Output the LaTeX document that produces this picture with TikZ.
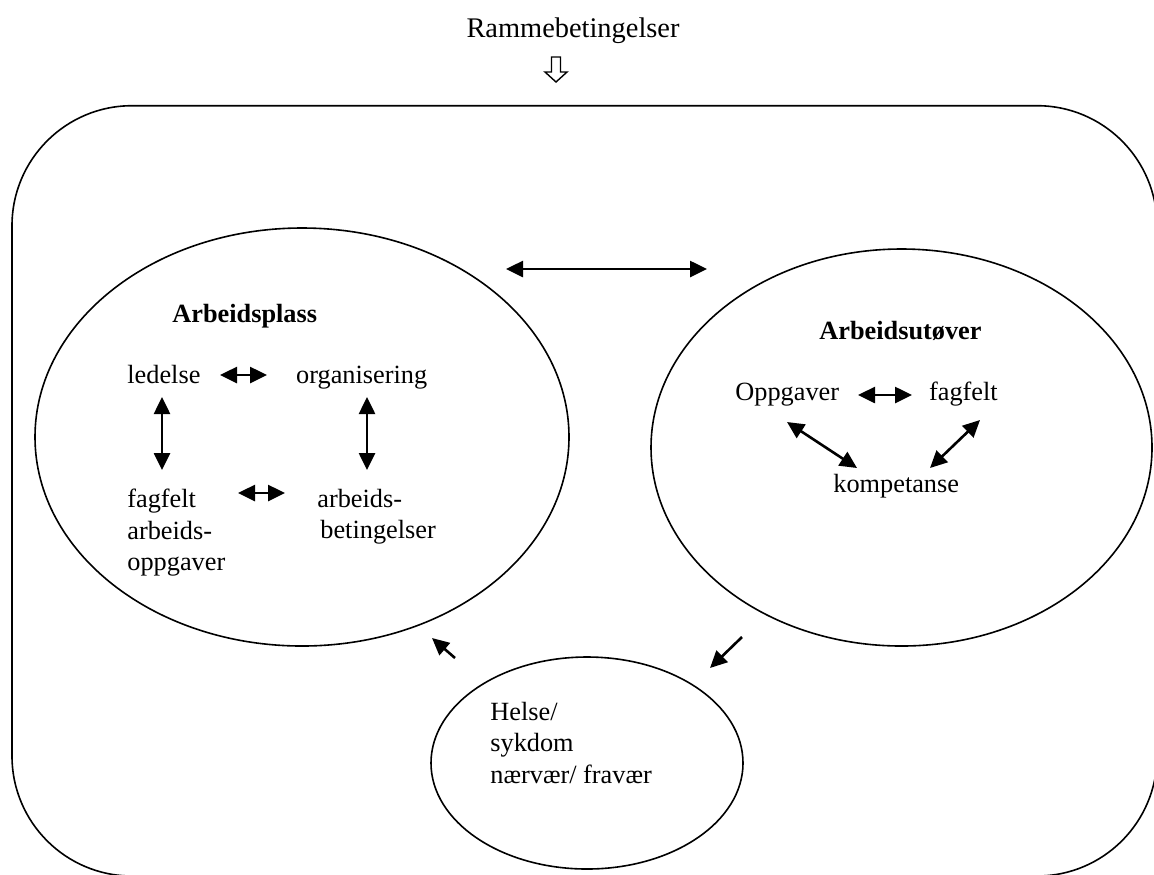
\documentclass[tikz,border=0pt]{standalone}
\usepackage{fontspec}
\setmainfont{Liberation Serif}
\usetikzlibrary{arrows.meta,shapes.geometric,positioning}

\begin{document}
\begin{tikzpicture}[x=0.5pt,y=-0.5pt,
  >={Triangle[length=8.5pt,width=8pt]},
  word/.style={inner sep=0pt,font=\fontsize{13.15}{15.6}\selectfont},
  headword/.style={word,font=\fontsize{13.15}{15.6}\selectfont\bfseries},
  field/.style={draw,ellipse,line width=0.8pt,inner sep=0pt},
  link/.style={<->,line width=1.3pt},
  push/.style={->,line width=1.3pt}]

 \useasboundingbox (0,0) rectangle (1154,874);
 \draw[line width=0.8pt,rounded corners=60pt] (12,105.7) rectangle (1157,876);

 % title and hollow arrow
 \node[word,font=\fontsize{14.2}{17}\selectfont,anchor=base] (ramme) at (573,37) {Rammebetingelser};
 \coordinate (hollowtip) at (556,82);
 \draw[line width=0.7pt,line join=miter] (hollowtip) -- ++(-11,-10) -- ++(6.5,0) -- ++(0,-15)
   -- ++(9,0) -- ++(0,15) -- ++(6.5,0) -- cycle;

 % the three fields
 \node[field,minimum width=267pt,minimum height=209pt] (plass) at (302,437) {};
 \node[field,minimum width=250.5pt,minimum height=198.5pt] (utover) at (901.5,447.5) {};
 \node[field,minimum width=156pt,minimum height=106pt] (helse) at (587,763) {};

 % Arbeidsplass
 \node[headword,anchor=base west] (plasshead) at (172,322) {Arbeidsplass};
 \node[word,anchor=base west] (ledelse) at (127,383) {ledelse};
 \node[word,base right=47.5pt of ledelse] (organisering) {organisering};
 \node[word,align=left,anchor=north west] (fagfelt) at (127,489) {fagfelt\\arbeids-\\oppgaver};
 \node[word,align=left,anchor=north west] (betingelser) at (317,489) {arbeids-\\\hspace*{1.5pt}betingelser};

 % Arbeidsutøver
 \node[headword,anchor=base west] (utoverhead) at (819,339) {Arbeidsutøver};
 \node[word,anchor=base west] (oppgaver) at (735,400) {Oppgaver};
 \node[word,base right=44.6pt of oppgaver] (fagfeltb) {fagfelt};
 \node[word,anchor=base west] (kompetanse) at (833,492) {kompetanse};

 % Helse
 \node[word,align=left,anchor=north west] (helsetext) at (490,702) {Helse/\\sykdom\\nærvær/ fravær};

 % arrow ends
 \coordinate (ledR) at (220,375);  \coordinate (orgL) at (267,375);
 \coordinate (ledD) at (162,397);  \coordinate (fagU) at (162,470);
 \coordinate (orgD) at (367,397);  \coordinate (betU) at (367,470);
 \coordinate (fagR) at (238,493);  \coordinate (betL) at (285,493);
 \coordinate (oppR) at (858,395);  \coordinate (fagL) at (912,395);
 \coordinate (oppD) at (787,422);  \coordinate (kompL) at (857,468);
 \coordinate (fagD) at (980,420);  \coordinate (kompR) at (930,468);
 \coordinate (plassR) at (506,269); \coordinate (utoverL) at (707,269);
 \coordinate (helseUp) at (455,658); \coordinate (plassLow) at (432,638);
 \coordinate (utoverLow) at (742,637); \coordinate (helseTop) at (710,668);

 \path[link]
    (ledR)   edge (orgL)
    (ledD)   edge (fagU)
    (orgD)   edge (betU)
    (fagR)   edge (betL)
    (oppR)   edge (fagL)
    (oppD)   edge (kompL)
    (fagD)   edge (kompR)
    (plassR) edge (utoverL);

 \path[push]
    (helseUp)   edge (plassLow)
    (utoverLow) edge (helseTop);

\end{tikzpicture}
\end{document}
